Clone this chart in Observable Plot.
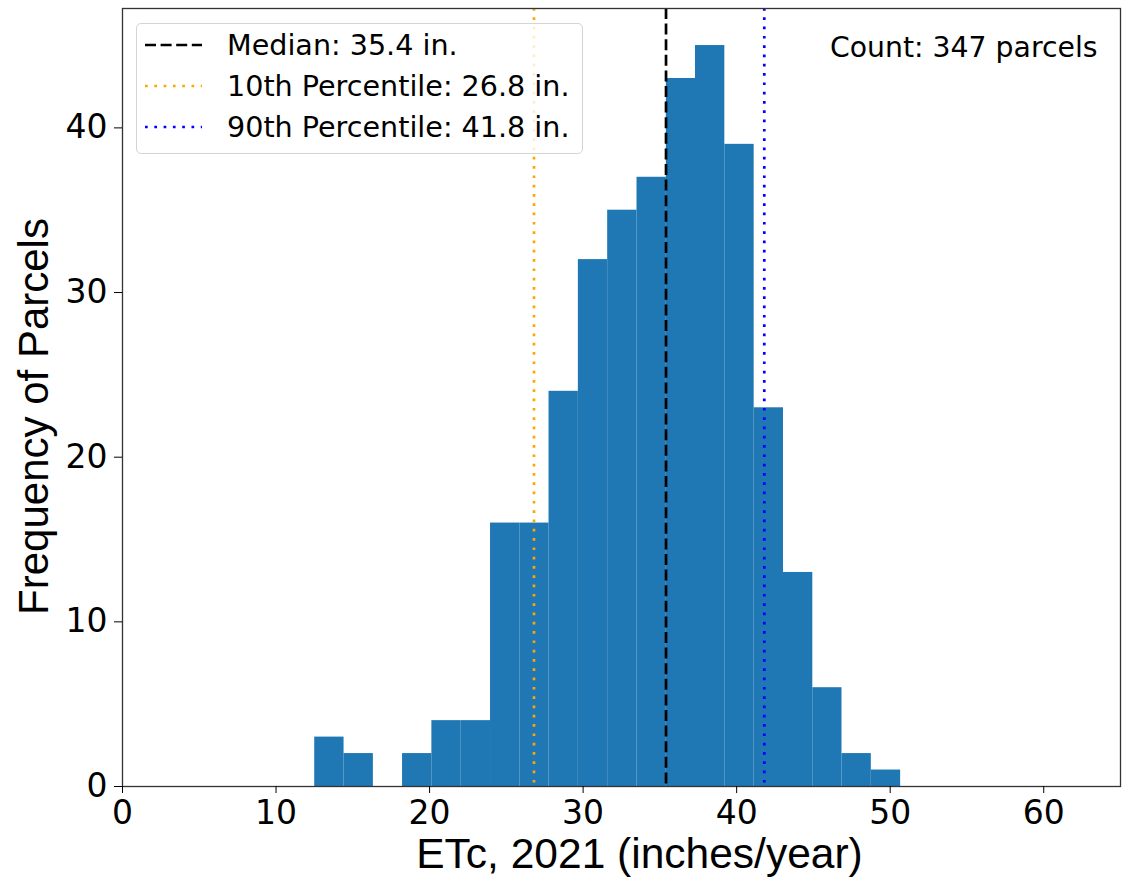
<!DOCTYPE html>
<html><head><meta charset="utf-8">
<script src="https://cdn.jsdelivr.net/npm/d3@7"></script>
<script src="https://cdn.jsdelivr.net/npm/@observablehq/plot@0.6"></script>
<style>
body{margin:0;background:#fff}
#wrap{position:relative;width:1122px;height:879px}
#legend{position:absolute;left:136px;top:23px;width:447px;height:131px;box-sizing:border-box;border:1px solid #d4d4d4;border-radius:5px;background:rgba(255,255,255,0.8)}
#legend svg{position:absolute;left:-1px;top:-1px;overflow:visible}
</style>
</head><body><div id="wrap"></div>
<script>
// Histogram bin edges (inches/year) and parcel counts per bin
const binEdges = [12.52, 14.43, 16.34, 18.24, 20.15, 22.06, 23.97, 25.88, 27.78, 29.69, 31.60,
                  33.51, 35.42, 37.32, 39.23, 41.14, 43.05, 44.96, 46.86, 48.77, 50.68];
const binCounts = [3, 2, 0, 2, 4, 4, 16, 16, 24, 32, 35, 37, 43, 45, 39, 23, 13, 6, 2, 1];
// Summary statistics
const statNames = ["Median", "10th Percentile", "90th Percentile"];
const statValues = [35.4, 26.8, 41.8];
const statColors = ["black", "orange", "blue"];
const totalCount = 347;
// Ticks and labels
const xTicks = [0, 10, 20, 30, 40, 50, 60];
const yTicks = [0, 10, 20, 30, 40];
const xLabel = "ETc, 2021 (inches/year)";
const yLabel = "Frequency of Parcels";

const bins = binCounts.map((c, i) => ({x1: binEdges[i], x2: binEdges[i + 1], count: c}));
const stats = statNames.map((n, i) => ({name: n, value: statValues[i], color: statColors[i]}));

const dashMedian = "11,4.6";
const dotted = "2.7,6.6";

const plot = Plot.plot({
  width: 1122, height: 879,
  marginLeft: 122, marginRight: 2, marginTop: 8, marginBottom: 93,
  style: {fontFamily: "DejaVu Sans", fontSize: "33px", color: "#000", background: "#fff"},
  x: {domain: [0, 65]},
  y: {domain: [0, 47.25]},
  marks: [
    Plot.rect(bins, {x1: "x1", x2: "x2", y1: 0, y2: "count", fill: "#1f77b4"}),
    Plot.ruleX([stats[0]], {x: "value", stroke: "color", strokeWidth: 2.7, strokeDasharray: dashMedian}),
    Plot.ruleX([stats[1]], {x: "value", stroke: "color", strokeWidth: 2.7, strokeDasharray: dotted}),
    Plot.ruleX([stats[2]], {x: "value", stroke: "color", strokeWidth: 2.7, strokeDasharray: dotted}),
    Plot.frame({stroke: "#333", strokeWidth: 1.3}),
    Plot.axisX({ticks: xTicks, tickSize: 7, tickPadding: 7, label: null, fontSize: 33}),
    Plot.axisY({ticks: yTicks, tickSize: 8, tickPadding: 7, label: null, fontSize: 33}),
    Plot.text([xLabel], {frameAnchor: "bottom", text: d => d, dx: 18, dy: 81, lineAnchor: "bottom",
      textAnchor: "middle", fontSize: 42.5, fontFamily: "Liberation Sans", fill: "#000"}),
    Plot.text([yLabel], {frameAnchor: "left", text: d => d, rotate: -90, dx: -75, dy: 19, lineAnchor: "bottom",
      textAnchor: "middle", fontSize: 42, fontFamily: "Liberation Sans", fill: "#000"}),
    Plot.text([`Count: ${totalCount} parcels`], {frameAnchor: "top-right", text: d => d, dx: -23, dy: 48,
      lineAnchor: "bottom", textAnchor: "end", fontSize: 28.3, fontFamily: "DejaVu Sans", fill: "#000"})
  ]
});
const wrap = document.getElementById("wrap");
wrap.appendChild(plot);

// Legend (inside the plot area, upper left)
const leg = document.createElement("div");
leg.id = "legend";
const ns = "http://www.w3.org/2000/svg";
const lsvg = document.createElementNS(ns, "svg");
lsvg.setAttribute("width", 447); lsvg.setAttribute("height", 131);
const dashes = [dashMedian, dotted, dotted];
stats.forEach((s, i) => {
  const cy = 22 + i * 41;
  const ln = document.createElementNS(ns, "line");
  ln.setAttribute("x1", 9); ln.setAttribute("x2", 66);
  ln.setAttribute("y1", cy); ln.setAttribute("y2", cy);
  ln.setAttribute("stroke", s.color); ln.setAttribute("stroke-width", 2.7);
  ln.setAttribute("stroke-dasharray", dashes[i]);
  lsvg.appendChild(ln);
  const tx = document.createElementNS(ns, "text");
  tx.setAttribute("x", 91); tx.setAttribute("y", cy + 10);
  tx.setAttribute("font-family", "DejaVu Sans"); tx.setAttribute("font-size", 28.6);
  tx.setAttribute("fill", "#000");
  tx.textContent = `${s.name}: ${s.value.toFixed(1)} in.`;
  lsvg.appendChild(tx);
});
leg.appendChild(lsvg);
wrap.appendChild(leg);
</script>
</body></html>
